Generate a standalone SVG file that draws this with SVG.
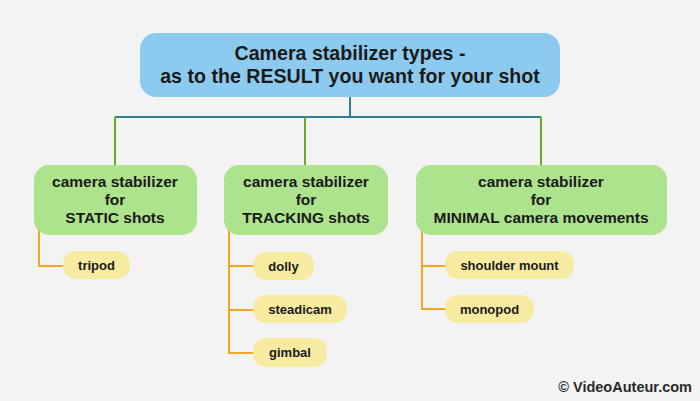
<svg xmlns="http://www.w3.org/2000/svg" width="700" height="401" viewBox="0 0 700 401">
<style>
.t{font-family:"Liberation Sans",Arial,sans-serif;font-weight:bold;fill:#1a1a1a;text-anchor:middle}
.r{font-size:19.6px}
.m{font-size:15.5px}
.l{font-size:13px}
.root{fill:#8ccbef}
.mid{fill:#aee38e}
.leaf{fill:#f6eba0}
.teal{stroke:#2f7f8e;stroke-width:2;fill:none}
.grn{stroke:#6aa82c;stroke-width:2;fill:none}
.org{stroke:#f2a623;stroke-width:2;fill:none}
</style>
<rect width="700" height="401" fill="#f3f3f3"/>
<g id="connectors">
<path class="teal" d="M350 97V117M115 117H541"/>
<path class="grn" d="M115 117V165M305 117V165M541 117V165"/>
<path class="org" d="M39 230V266H63"/>
<path class="org" d="M229 230V353H253M229 266H253M229 310H253"/>
<path class="org" d="M422 230V309H445M422 266H445"/>
</g>
<g id="root">
<rect class="root" x="140" y="33" width="420" height="64" rx="16"/>
<text class="t r" x="350" y="60">Camera stabilizer types -</text>
<text class="t r" x="350" y="83">as to the RESULT you want for your shot</text>
</g>
<g id="static">
<rect class="mid" x="34" y="165" width="163" height="70" rx="15"/>
<text class="t m" x="115" y="187">camera stabilizer</text>
<text class="t m" x="115" y="205">for</text>
<text class="t m" x="115" y="223">STATIC shots</text>
</g>
<g id="tracking">
<rect class="mid" x="224" y="165" width="164" height="70" rx="15"/>
<text class="t m" x="306" y="187">camera stabilizer</text>
<text class="t m" x="306" y="205">for</text>
<text class="t m" x="306" y="223">TRACKING shots</text>
</g>
<g id="minimal">
<rect class="mid" x="416" y="165" width="251" height="70" rx="15"/>
<text class="t m" x="541" y="187">camera stabilizer</text>
<text class="t m" x="541" y="205">for</text>
<text class="t m" x="541" y="223">MINIMAL camera movements</text>
</g>
<g id="tripod">
<rect class="leaf" x="63" y="251" width="67" height="28" rx="13"/>
<text class="t l" x="96.5" y="270">tripod</text>
</g>
<g id="dolly">
<rect class="leaf" x="253" y="252" width="61" height="28" rx="13"/>
<text class="t l" x="283.5" y="271">dolly</text>
</g>
<g id="steadicam">
<rect class="leaf" x="253" y="295" width="94" height="28" rx="13"/>
<text class="t l" x="300" y="314">steadicam</text>
</g>
<g id="gimbal">
<rect class="leaf" x="253" y="338" width="74" height="29" rx="13"/>
<text class="t l" x="290" y="357">gimbal</text>
</g>
<g id="shoulder">
<rect class="leaf" x="445" y="251" width="129" height="28" rx="13"/>
<text class="t l" x="509.5" y="270">shoulder mount</text>
</g>
<g id="monopod">
<rect class="leaf" x="445" y="295" width="89" height="28" rx="13"/>
<text class="t l" x="489.5" y="314">monopod</text>
</g>
<text class="t" x="692" y="392" font-size="14.5" style="text-anchor:end;fill:#2a2a2a">© VideoAuteur.com</text>
</svg>
